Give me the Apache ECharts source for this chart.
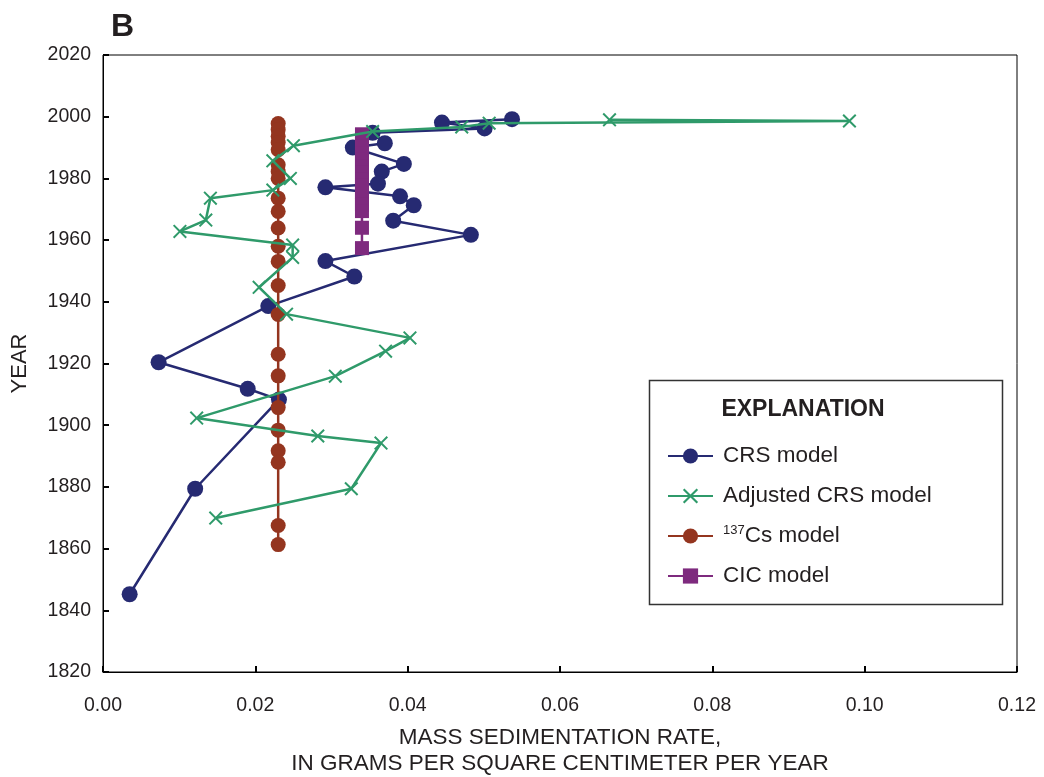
<!DOCTYPE html>
<html>
<head>
<meta charset="utf-8">
<script src="https://cdn.jsdelivr.net/npm/echarts@6/dist/echarts.min.js"></script>
<style>
  html, body { margin: 0; padding: 0; background: #fff; }
  #chart { width: 1044px; height: 777px; }
</style>
</head>
<body>
<div id="chart"></div>
<script>
// values: year (depth order) and mass sedimentation rate
const crsYear = [1999.2, 1998.1, 1996.2, 1994.8, 1991.4, 1990.0, 1984.7, 1982.2, 1978.3, 1977.1, 1974.2, 1971.3, 1966.3, 1961.7, 1953.2, 1948.2, 1938.6, 1920.4, 1911.8, 1908.3, 1879.4, 1845.2];
const crsRate = [0.0537, 0.0445, 0.0501, 0.0354, 0.0370, 0.0328, 0.0395, 0.0366, 0.0361, 0.0292, 0.0390, 0.0408, 0.0381, 0.0483, 0.0292, 0.0330, 0.0217, 0.0073, 0.0190, 0.0231, 0.0121, 0.0035];

const adjYear = [1999.0, 1998.6, 1997.9, 1996.7, 1995.2, 1990.6, 1985.7, 1980.0, 1976.2, 1973.6, 1966.5, 1962.8, 1958.4, 1954.4, 1944.7, 1936.0, 1928.3, 1924.0, 1915.9, 1902.3, 1896.5, 1894.2, 1879.4, 1869.9];
const adjRate = [0.0665, 0.0980, 0.0507, 0.0471, 0.0354, 0.0250, 0.0223, 0.0246, 0.0223, 0.0141, 0.0135, 0.0101, 0.0249, 0.0249, 0.0205, 0.0241, 0.0403, 0.0371, 0.0305, 0.0123, 0.0282, 0.0365, 0.0326, 0.0148];

const csYear = [1997.8, 1995.8, 1993.7, 1991.6, 1989.3, 1984.4, 1982.2, 1980.0, 1973.6, 1969.3, 1963.9, 1958.0, 1953.1, 1945.3, 1935.9, 1923.0, 1916.0, 1905.7, 1898.4, 1891.7, 1888.0, 1867.5, 1861.3];
const csRate = [0.023, 0.023, 0.023, 0.023, 0.023, 0.023, 0.023, 0.023, 0.023, 0.023, 0.023, 0.023, 0.023, 0.023, 0.023, 0.023, 0.023, 0.023, 0.023, 0.023, 0.023, 0.023, 0.023];

const cicYear = [1994.3, 1992.3, 1990.2, 1988.1, 1986.0, 1983.9, 1981.8, 1979.7, 1977.6, 1975.5, 1973.4, 1971.4, 1969.4, 1964.0, 1957.4];
const cicRate = [0.034, 0.034, 0.034, 0.034, 0.034, 0.034, 0.034, 0.034, 0.034, 0.034, 0.034, 0.034, 0.034, 0.034, 0.034];

const legendNames = ['CRS model', 'Adjusted CRS model', '137Cs model', 'CIC model'];

const FONT = '"Liberation Sans", Arial, sans-serif';
const TEXT = '#231f20';
const CROSS = 'path://M0,1L1,0L5,4L9,0L10,1L6,5L10,9L9,10L5,6L1,10L0,9L4,5Z';

const pairs = (xs, ys) => xs.map((x, i) => [x, ys[i]]);

const lineSeries = (name, data, color, symbol, size, z) => ({
  name,
  type: 'line',
  data,
  z,
  symbol,
  symbolSize: size,
  showSymbol: true,
  animation: false,
  lineStyle: { color, width: 2.5 },
  itemStyle: { color },
  emphasis: { disabled: true },
});

const chart = echarts.init(document.getElementById('chart'));

chart.setOption({
  backgroundColor: '#fff',
  textStyle: { fontFamily: FONT, color: TEXT },
  title: {
    text: 'B',
    left: 106,
    top: 6,
    textStyle: { fontFamily: FONT, fontSize: 32, fontWeight: 'bold', color: TEXT },
  },
  grid: {
    left: 103,
    right: 27,
    top: 55,
    bottom: 105,
    outerBoundsMode: 'none',
    containLabel: false,
    show: true,
    borderColor: '#000',
    borderWidth: 1,
  },
  xAxis: {
    type: 'value',
    min: 0,
    max: 0.12,
    interval: 0.02,
    name: 'MASS SEDIMENTATION RATE,\nIN GRAMS PER SQUARE CENTIMETER PER YEAR',
    nameLocation: 'middle',
    nameGap: 53,
    nameTextStyle: { fontSize: 22.5, lineHeight: 26, color: TEXT, fontFamily: FONT },
    axisLine: { lineStyle: { color: '#000', width: 1 } },
    axisTick: { inside: true, length: 6, lineStyle: { color: '#000', width: 2 } },
    axisLabel: {
      fontSize: 19.5,
      color: TEXT,
      margin: 24,
      formatter: v => v.toFixed(2),
    },
    splitLine: { show: false },
  },
  yAxis: {
    type: 'value',
    min: 1820,
    max: 2020,
    interval: 20,
    name: 'YEAR',
    nameLocation: 'middle',
    nameGap: 72,
    nameRotate: 90,
    nameTextStyle: { fontSize: 22, color: TEXT, fontFamily: FONT },
    axisLine: { lineStyle: { color: '#000', width: 1 } },
    axisTick: { inside: true, length: 6, lineStyle: { color: '#000', width: 2 } },
    axisLabel: { fontSize: 19.5, color: TEXT, margin: 12, formatter: v => String(v) },
    splitLine: { show: false },
  },
  legend: {
    data: legendNames,
    orient: 'vertical',
    left: 662,
    top: 439,
    itemWidth: 45,
    itemHeight: 19,
    itemGap: 16,
    selectedMode: false,
    textStyle: {
      fontSize: 22.5,
      lineHeight: 24,
      color: TEXT,
      fontFamily: FONT,
      padding: [0, 0, 0, 5],
      rich: {
        sup: { fontSize: 13, verticalAlign: 'top', lineHeight: 24, color: TEXT },
        n: { fontSize: 22.5, lineHeight: 24, color: TEXT },
      },
    },
    formatter: name => name === '137Cs model' ? '{sup|137}{n|Cs model}' : name,
  },
  graphic: [
    {
      type: 'rect',
      shape: { x: 649.5, y: 380.5, width: 353, height: 224 },
      style: { fill: '#fff', stroke: '#333', lineWidth: 1.5 },
      z: 0,
      silent: true,
    },
    {
      type: 'text',
      x: 803,
      y: 410,
      style: {
        text: 'EXPLANATION',
        font: 'bold 23px ' + FONT,
        fill: TEXT,
        align: 'center',
        verticalAlign: 'middle',
      },
      z: 1,
      silent: true,
    },
  ],
  series: [
    lineSeries('CRS model', pairs(crsRate, crsYear), '#262a72', 'circle', 16, 2),
    lineSeries('Adjusted CRS model', pairs(adjRate, adjYear), '#2f9a6a', CROSS, 14, 5),
    lineSeries('137Cs model', pairs(csRate, csYear), '#94351f', 'circle', 15, 3),
    lineSeries('CIC model', pairs(cicRate, cicYear), '#7e2a7e', 'rect', 14, 4),
  ],
});
</script>
</body>
</html>
